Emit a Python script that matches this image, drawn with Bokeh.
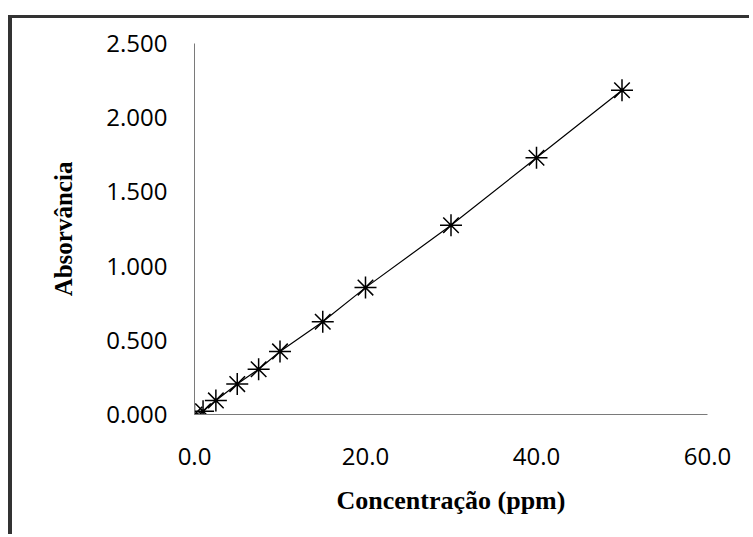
from bokeh.plotting import figure
from bokeh.models import Range1d, FixedTicker, CustomJSTickFormatter
from bokeh.embed import file_html
from bokeh.resources import INLINE

# Data
concentracao = [0, 1, 2.5, 5, 7.5, 10, 15, 20, 30, 40, 50]
absorvancia = [0.000, 0.022, 0.095, 0.205, 0.305, 0.425, 0.625, 0.855, 1.275, 1.730, 2.185]
x_ticks = [0, 20, 40, 60]
y_ticks = [0.0, 0.5, 1.0, 1.5, 2.0, 2.5]
x_title = "Concentração (ppm)"
y_title = "Absorvância"

p = figure(width=741, height=519, output_backend="svg", toolbar_location=None,
           x_range=Range1d(0, 60), y_range=Range1d(0, 2.5),
           min_border_left=182, min_border_right=46, min_border_top=25, min_border_bottom=123)

p.styles = {"margin-left": "8px", "margin-top": "15px",
            "border-left": "4px solid #333333", "border-top": "3px solid #333333"}

p.grid.visible = False
p.outline_line_color = None
p.background_fill_color = "white"
p.border_fill_color = "white"

for ax in (p.xaxis[0], p.yaxis[0]):
    ax.axis_line_color = "#7a7a7a"
    ax.axis_line_width = 1
    ax.major_tick_line_color = None
    ax.minor_tick_line_color = None
    ax.major_tick_in = 0
    ax.major_tick_out = 0
    ax.minor_tick_in = 0
    ax.minor_tick_out = 0
    ax.major_label_text_font = "Open Sans"
    ax.major_label_text_font_size = "24px"
    ax.major_label_text_color = "black"
    ax.axis_label_text_font = "Liberation Serif"
    ax.axis_label_text_font_style = "bold"
    ax.axis_label_text_color = "black"

p.xaxis.axis_label_text_font_size = "26px"
p.yaxis.axis_label_text_font_size = "25px"
p.xaxis.ticker = FixedTicker(ticks=x_ticks)
p.yaxis.ticker = FixedTicker(ticks=y_ticks)
p.xaxis.formatter = CustomJSTickFormatter(code="return tick.toFixed(1);")
p.yaxis.formatter = CustomJSTickFormatter(code="return tick.toFixed(3);")
p.xaxis.major_label_standoff = 33
p.yaxis.major_label_standoff = 27
p.xaxis.axis_label = x_title
p.yaxis.axis_label = y_title
p.xaxis.axis_label_standoff = 18
p.yaxis.axis_label_standoff = 26

p.line(concentracao, absorvancia, line_color="black", line_width=1.2)
p.scatter(concentracao, absorvancia, marker="asterisk", size=22,
          line_color="black", line_width=1.5)

open("out.html", "w").write(file_html(p, INLINE))
